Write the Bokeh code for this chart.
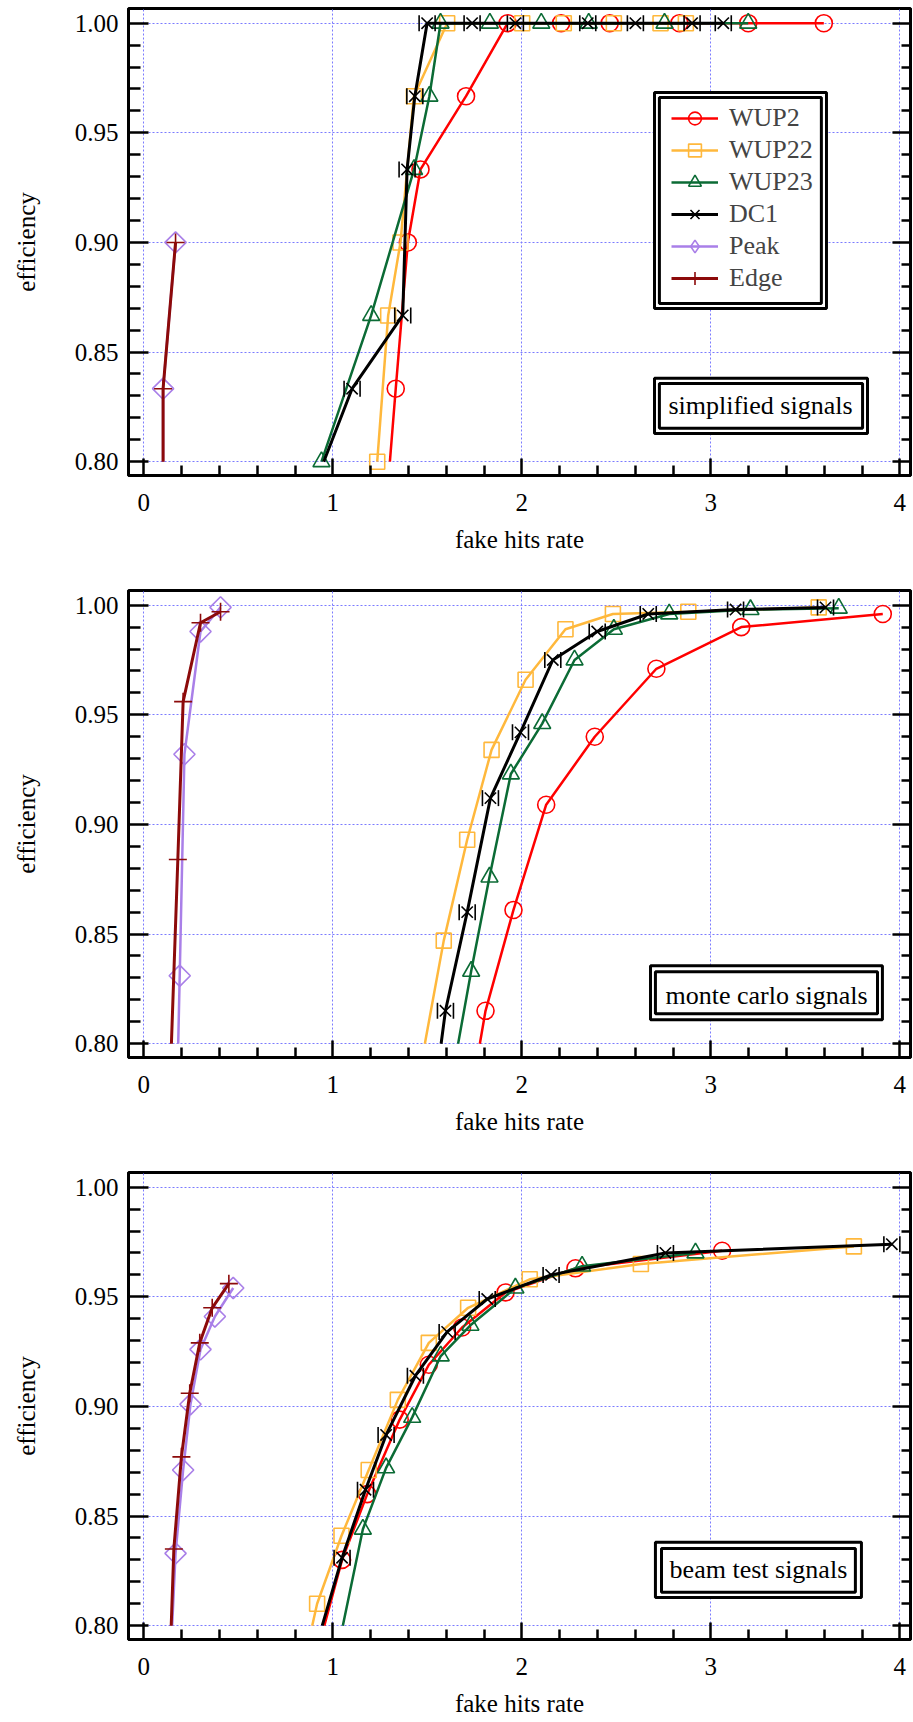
import math
from bokeh.plotting import figure
from bokeh.layouts import column
from bokeh.models import (Range1d, LinearAxis, Grid, FixedTicker, PrintfTickFormatter,
                          CustomJSTickFormatter, Legend, LegendItem, BoxAnnotation, Label,
                          ColumnDataSource)
from bokeh.transform import dodge
from bokeh.embed import file_html
from bokeh.resources import INLINE

# ---------------- data ----------------
SERIES_NAMES = ["WUP2", "WUP22", "WUP23", "DC1", "Peak", "Edge"]
X_TICKS = [0, 1, 2, 3, 4]
X_MINOR = [0.2, 0.4, 0.6, 0.8, 1.2, 1.4, 1.6, 1.8, 2.2, 2.4, 2.6, 2.8, 3.2, 3.4, 3.6, 3.8]
Y_TICKS = [0.80, 0.85, 0.90, 0.95, 1.00]
Y_MINOR = [0.81, 0.82, 0.83, 0.84, 0.86, 0.87, 0.88, 0.89, 0.91, 0.92, 0.93, 0.94,
           0.96, 0.97, 0.98, 0.99]
PANEL_TITLES = ["simplified signals", "monte carlo signals", "beam test signals"]
X_LABEL = "fake hits rate"
Y_LABEL = "efficiency"

# the first point of a series flagged in *_edge is where its line leaves the 0.80 edge (no marker there)
# panel 1: simplified signals
sim_WUP2_x = [1.302, 1.333, 1.397, 1.464, 1.705, 1.925, 2.208, 2.465, 2.834, 3.198, 3.598]
sim_WUP2_y = [0.80, 0.8333, 0.9000, 0.9333, 0.9667, 1.0, 1.0, 1.0, 1.0, 1.0, 1.0]
sim_WUP22_x = [1.235, 1.293, 1.358, 1.429, 1.605, 2.002, 2.222, 2.487, 2.734, 2.868]
sim_WUP22_y = [0.80, 0.8667, 0.9000, 0.9667, 1.0, 1.0, 1.0, 1.0, 1.0, 1.0]
sim_WUP23_x = [0.940, 1.203, 1.430, 1.511, 1.570, 1.831, 2.103, 2.354, 2.755, 3.198]
sim_WUP23_y = [0.80, 0.8667, 0.9333, 0.9667, 1.0, 1.0, 1.0, 1.0, 1.0, 1.0]
sim_DC1_x = [0.952, 1.102, 1.370, 1.393, 1.434, 1.499, 1.737, 1.966, 2.349, 2.601, 2.901, 3.066]
sim_DC1_y = [0.80, 0.8333, 0.8667, 0.9333, 0.9667, 1.0, 1.0, 1.0, 1.0, 1.0, 1.0, 1.0]
sim_Peak_x = [0.102, 0.102, 0.168]
sim_Peak_y = [0.80, 0.8333, 0.9000]
sim_Edge_x = [0.102, 0.102, 0.168]
sim_Edge_y = [0.80, 0.8333, 0.9000]
sim_edge = [1, 0, 0, 1, 1, 1]

# panel 2: monte carlo signals
mc_WUP2_x = [1.778, 1.808, 1.956, 2.129, 2.386, 2.712, 3.161, 3.910]
mc_WUP2_y = [0.80, 0.815, 0.861, 0.909, 0.940, 0.971, 0.990, 0.996]
mc_WUP22_x = [1.487, 1.587, 1.711, 1.840, 2.020, 2.231, 2.482, 2.881, 3.571]
mc_WUP22_y = [0.80, 0.847, 0.893, 0.934, 0.966, 0.989, 0.996, 0.997, 0.999]
mc_WUP23_x = [1.663, 1.732, 1.829, 1.942, 2.108, 2.279, 2.487, 2.780, 3.210, 3.677]
mc_WUP23_y = [0.80, 0.833, 0.876, 0.923, 0.946, 0.975, 0.989, 0.996, 0.998, 0.9986]
mc_DC1_x = [1.573, 1.596, 1.711, 1.834, 1.993, 2.164, 2.399, 2.669, 3.131, 3.607]
mc_DC1_y = [0.80, 0.815, 0.860, 0.912, 0.942, 0.975, 0.988, 0.996, 0.998, 0.999]
mc_Peak_x = [0.182, 0.190, 0.215, 0.300, 0.406]
mc_Peak_y = [0.80, 0.831, 0.932, 0.988, 0.999]
mc_Edge_x = [0.146, 0.180, 0.208, 0.300, 0.406]
mc_Edge_y = [0.80, 0.884, 0.956, 0.992, 0.997]
mc_edge = [1, 1, 1, 1, 1, 1]

# panel 3: beam test signals
bt_WUP2_x = [0.955, 1.049, 1.182, 1.354, 1.508, 1.684, 1.914, 2.284, 3.060]
bt_WUP2_y = [0.80, 0.830, 0.860, 0.894, 0.919, 0.936, 0.952, 0.963, 0.971]
bt_WUP22_x = [0.891, 0.917, 1.046, 1.190, 1.344, 1.508, 1.716, 2.042, 2.630, 3.757]
bt_WUP22_y = [0.80, 0.810, 0.841, 0.871, 0.903, 0.929, 0.945, 0.958, 0.965, 0.973]
bt_WUP23_x = [1.053, 1.159, 1.282, 1.420, 1.571, 1.728, 1.966, 2.319, 2.919]
bt_WUP23_y = [0.80, 0.844, 0.872, 0.895, 0.923, 0.937, 0.954, 0.964, 0.970]
bt_DC1_x = [0.944, 1.049, 1.173, 1.282, 1.437, 1.605, 1.817, 2.155, 2.760, 3.958]
bt_DC1_y = [0.80, 0.831, 0.862, 0.887, 0.914, 0.934, 0.949, 0.960, 0.970, 0.974]
bt_Peak_x = [0.150, 0.168, 0.208, 0.247, 0.300, 0.376, 0.473]
bt_Peak_y = [0.80, 0.833, 0.871, 0.901, 0.926, 0.941, 0.954]
bt_Edge_x = [0.145, 0.159, 0.199, 0.243, 0.296, 0.362, 0.450]
bt_Edge_y = [0.80, 0.835, 0.877, 0.906, 0.929, 0.945, 0.956]
bt_edge = [1, 1, 1, 1, 1, 1]

PANELS = [
    dict(title=PANEL_TITLES[0], edge=sim_edge, data={
        "WUP2": (sim_WUP2_x, sim_WUP2_y), "WUP22": (sim_WUP22_x, sim_WUP22_y),
        "WUP23": (sim_WUP23_x, sim_WUP23_y), "DC1": (sim_DC1_x, sim_DC1_y),
        "Peak": (sim_Peak_x, sim_Peak_y), "Edge": (sim_Edge_x, sim_Edge_y)}),
    dict(title=PANEL_TITLES[1], edge=mc_edge, data={
        "WUP2": (mc_WUP2_x, mc_WUP2_y), "WUP22": (mc_WUP22_x, mc_WUP22_y),
        "WUP23": (mc_WUP23_x, mc_WUP23_y), "DC1": (mc_DC1_x, mc_DC1_y),
        "Peak": (mc_Peak_x, mc_Peak_y), "Edge": (mc_Edge_x, mc_Edge_y)}),
    dict(title=PANEL_TITLES[2], edge=bt_edge, data={
        "WUP2": (bt_WUP2_x, bt_WUP2_y), "WUP22": (bt_WUP22_x, bt_WUP22_y),
        "WUP23": (bt_WUP23_x, bt_WUP23_y), "DC1": (bt_DC1_x, bt_DC1_y),
        "Peak": (bt_Peak_x, bt_Peak_y), "Edge": (bt_Edge_x, bt_Edge_y)}),
]

# ---------------- style ----------------
FONT = "'Liberation Serif', 'Times New Roman', Times, serif"
COLORS = {"WUP2": "#ff0000", "WUP22": "#ffb83c", "WUP23": "#0b6b35",
          "DC1": "#000000", "Peak": "#a97fe8", "Edge": "#8c0a0a"}
LINE_W = {"WUP2": 2.5, "WUP22": 2.5, "WUP23": 2.5, "DC1": 3.0, "Peak": 2.5, "Edge": 3.0}
X_RANGE = (-0.081, 4.0566)
Y_RANGE = (0.7937, 1.0067)

# annotation boxes (data units of each panel)
BOXES = [
    dict(outer=(2.702, 3.829, 0.8380, 0.8129), inner=(2.728, 3.803, 0.8357, 0.8152), text=(3.263, 0.8257)),
    dict(outer=(2.681, 3.908, 0.8355, 0.8109), inner=(2.707, 3.882, 0.8328, 0.8136), text=(3.295, 0.8218)),
    dict(outer=(2.707, 3.797, 0.8380, 0.8129), inner=(2.739, 3.765, 0.8352, 0.8152), text=(3.252, 0.8254)),
]
LEGEND_OUTER = (2.702, 3.612, 0.9684, 0.8699)
LEGEND_INNER = (2.728, 3.585, 0.9661, 0.8722)


def style_axis(ax, tin, min_in):
    ax.axis_line_width = 3
    ax.axis_line_color = "black"
    ax.major_tick_in = tin
    ax.major_tick_out = 0
    ax.minor_tick_in = min_in
    ax.minor_tick_out = 0
    ax.major_tick_line_width = 2.5
    ax.minor_tick_line_width = 2.5
    ax.major_tick_line_color = "black"
    ax.minor_tick_line_color = "black"
    ax.major_label_text_font = FONT
    ax.major_label_text_font_size = "25px"
    ax.major_label_text_color = "black"
    ax.axis_label_text_font = FONT
    ax.axis_label_text_font_size = "25px"
    ax.axis_label_text_font_style = "normal"
    ax.axis_label_text_color = "black"


def box(l, r, t, b, fill):
    return BoxAnnotation(left=l, right=r, top=t, bottom=b,
                         fill_color="white" if fill else None, fill_alpha=1.0 if fill else 0.0,
                         line_color="black", line_width=3, line_alpha=1.0)


def draw_series(p, name, xs, ys, k):
    c = COLORS[name]
    line = p.line(xs, ys, line_color=c, line_width=LINE_W[name])
    src = ColumnDataSource(dict(x=xs[k:], y=ys[k:]))
    common = dict(line_color=c, fill_color=None, line_width=1.6)
    legend_marker = None
    if name == "WUP2":
        m = p.scatter("x", "y", source=src, marker="circle", size=17, **common)
    elif name == "WUP22":
        m = p.scatter("x", "y", source=src, marker="square", size=15, **common)
    elif name == "WUP23":
        m = p.scatter("x", "y", source=src, marker="triangle", size=17, **common)
    elif name == "DC1":
        m = p.scatter("x", "y", source=src, marker="x", size=16, **common)
        for d in (-0.0423, 0.0423):
            p.scatter(x=dodge("x", d, range=p.x_range), y="y", source=src, marker="dash",
                      angle=math.pi / 2, size=16, **common)
    elif name == "Peak":
        m = p.scatter("x", "y", source=src, marker="square", angle=math.pi / 4, size=15, **common)
        # legend swatch only: zero size in the plot (legend markers are drawn unrotated)
        legend_marker = p.scatter("x", "y", source=src, marker="diamond", size=0, **common)
    else:
        m = p.scatter("x", "y", source=src, marker="cross", size=18, **common)
    return [line, legend_marker if legend_marker is not None else m]


def make_panel(i, panel):
    height = 582 if i < 2 else 558
    mbb = 107 if i < 2 else 83
    p = figure(width=913, height=height, output_backend="svg", toolbar_location=None,
               x_range=Range1d(*X_RANGE), y_range=Range1d(*Y_RANGE),
               x_axis_type=None, y_axis_type=None,
               min_border_left=128, min_border_right=3, min_border_top=8,
               min_border_bottom=mbb)
    p.outline_line_color = "black"
    p.outline_line_width = 3
    p.outline_line_alpha = 1.0
    p.background_fill_color = "white"
    p.border_fill_color = "white"

    for dim, ticks in ((0, X_TICKS), (1, Y_TICKS)):
        g = Grid(dimension=dim, ticker=FixedTicker(ticks=ticks), grid_line_color="#7b7bff",
                 grid_line_dash="2 2", grid_line_width=1)
        p.add_layout(g, "center")

    xb = LinearAxis(ticker=FixedTicker(ticks=X_TICKS, minor_ticks=X_MINOR),
                    formatter=PrintfTickFormatter(format="%d"), axis_label=X_LABEL)
    style_axis(xb, 17, 10)
    xb.major_label_standoff = 18
    xb.axis_label_standoff = 12
    p.add_layout(xb, "below")

    yl = LinearAxis(ticker=FixedTicker(ticks=Y_TICKS, minor_ticks=Y_MINOR),
                    formatter=PrintfTickFormatter(format="%.2f"), axis_label=Y_LABEL)
    style_axis(yl, 20, 12)
    yl.major_label_standoff = 10
    yl.axis_label_standoff = 32
    p.add_layout(yl, "left")

    yr = LinearAxis(ticker=FixedTicker(ticks=Y_TICKS, minor_ticks=Y_MINOR),
                    formatter=CustomJSTickFormatter(code="return ''"))
    style_axis(yr, 18, 9)
    yr.major_label_standoff = 0
    p.add_layout(yr, "right")

    items = []
    for j, name in enumerate(SERIES_NAMES):
        xs, ys = panel["data"][name]
        rs = draw_series(p, name, xs, ys, panel["edge"][j])
        items.append(LegendItem(label=name, renderers=rs))

    b = BOXES[i]
    p.add_layout(box(*b["outer"], True))
    p.add_layout(box(*b["inner"], False))
    p.add_layout(Label(x=b["text"][0], y=b["text"][1], text=panel["title"],
                       text_font=FONT, text_font_size="26px", text_align="center",
                       text_baseline="middle", text_color="black"))

    if i == 0:
        p.add_layout(box(*LEGEND_OUTER, True))
        p.add_layout(box(*LEGEND_INNER, False))
        leg = Legend(items=items, location=(543, 181), padding=0, margin=0, spacing=0,
                     glyph_width=47, glyph_height=32, label_height=30, label_standoff=11,
                     label_text_font=FONT, label_text_font_size="26px",
                     background_fill_alpha=0, border_line_color=None)
        p.add_layout(leg, "center")
    return p


figs = [make_panel(i, pn) for i, pn in enumerate(PANELS)]
layout = column(*figs, spacing=0)
open("out.html", "w").write(file_html(layout, INLINE))
